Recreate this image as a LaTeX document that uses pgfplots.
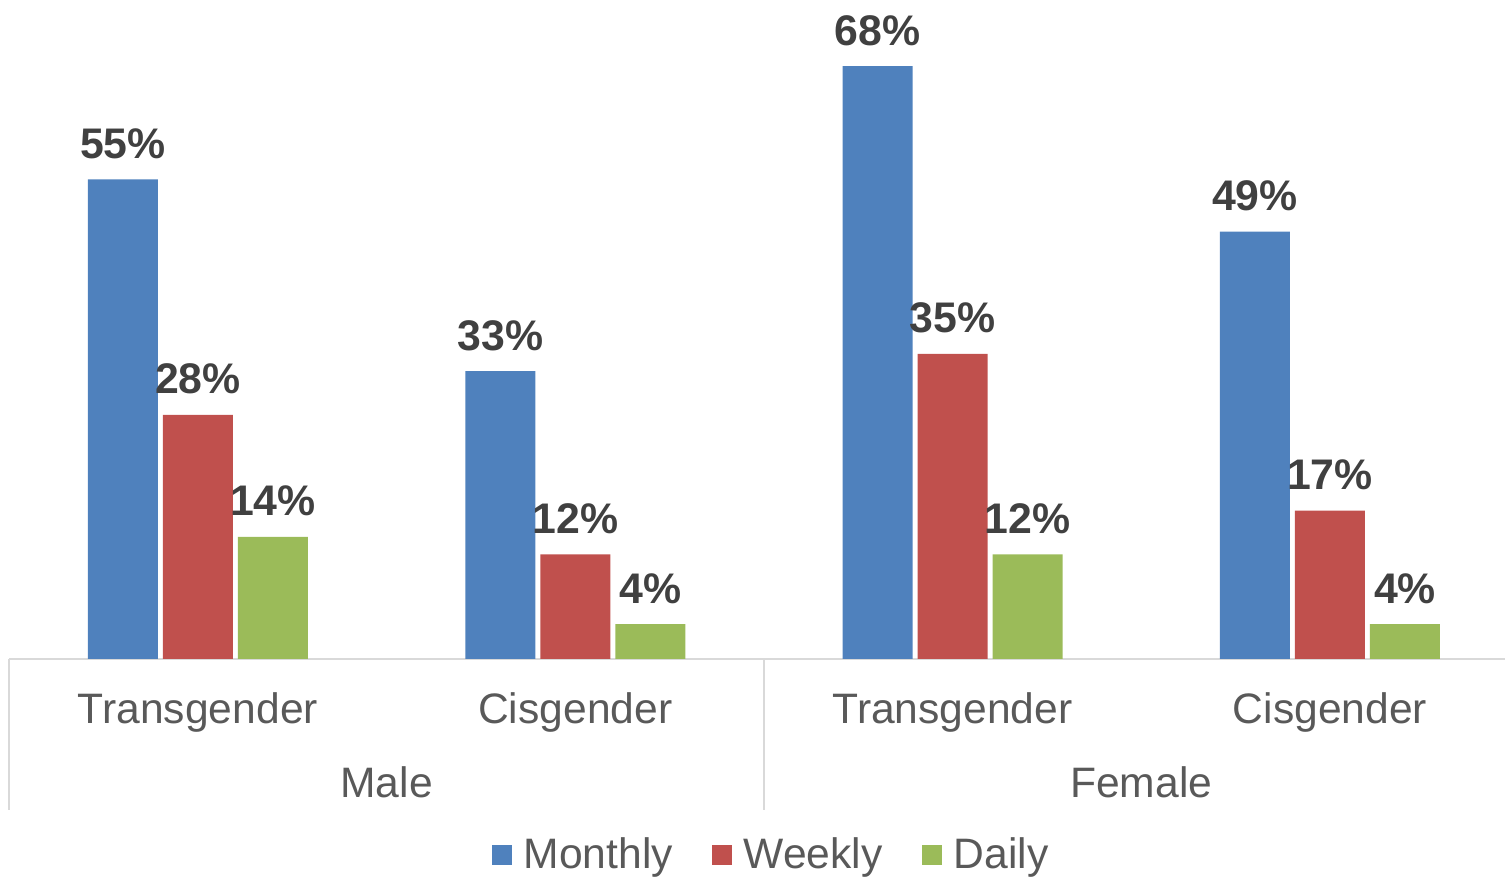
\documentclass[border=0pt]{standalone}
\usepackage{pgfplots}
\pgfplotsset{compat=1.18}
\usepackage{fontspec}
\setmainfont{Liberation Sans}

\definecolor{cMonthly}{HTML}{4F81BD}
\definecolor{cWeekly}{HTML}{C0504D}
\definecolor{cDaily}{HTML}{9BBB59}
\definecolor{labeltext}{HTML}{404040}
\definecolor{axistext}{HTML}{595959}
\definecolor{axisgrey}{HTML}{D9D9D9}

\newcommand{\catfont}{\fontsize{21.3}{25}\selectfont}

\begin{document}
\begin{tikzpicture}
    \begin{axis}[
            name=ax,
            scale only axis,
            width=747.85pt, height=327pt,
            xmin=0, xmax=3.964,
            ymin=0, ymax=75,
            axis x line*=bottom,
            axis y line=none,
            x axis line style={axisgrey, line width=1pt},
            major tick length=0pt,
            xtick={0.5,1.5,2.5,3.5},
            xticklabels={Transgender,Cisgender,Transgender,Cisgender},
            xticklabel style={anchor=base, yshift=-32.5pt, inner sep=0pt,
                    font=\catfont, text=axistext},
            ybar=2.5pt, bar width=35pt,
            clip=false,
            /pgf/number format/assume math mode=true,
            nodes near coords={\pgfmathprintnumber{\pgfplotspointmeta}\%},
            every node near coord/.append style={anchor=base, inner sep=0pt,
                    yshift=10.5pt, font=\bfseries\fontsize{21.4}{25}\selectfont,
                    text=labeltext},
            legend columns=-1,
            legend image code/.code={\fill[#1] (0pt,-5pt) rectangle (10pt,5pt);},
            legend style={draw=none, fill=none,
                    at={(0.5086,-0.2997)}, anchor=center,
                    nodes={inner sep=0pt, font=\catfont, text=axistext},
                    /tikz/every odd column/.append style={column sep=6pt},
                    /tikz/every even column/.append style={column sep=19.5pt}},
        ]
        \addplot[fill=cMonthly, draw=none]
        coordinates {(0.5,55) (1.5,33) (2.5,68) (3.5,49)};
        \addlegendentry{Monthly}
        \addplot[fill=cWeekly, draw=none]
        coordinates {(0.5,28) (1.5,12) (2.5,35) (3.5,17)};
        \addlegendentry{Weekly}
        \addplot[fill=cDaily, draw=none]
        coordinates {(0.5,14) (1.5,4) (2.5,12) (3.5,4)};
        \addlegendentry{Daily}

        % group separators and group labels
        \draw[axisgrey, line width=1pt] (axis cs:0,0) -- ++(0,-75.5pt);
        \draw[axisgrey, line width=1pt] (axis cs:2,0) -- ++(0,-75.5pt);
        \node[anchor=base, inner sep=0pt, font=\catfont, text=axistext]
        at ([yshift=-69.5pt]axis cs:1,0) {Male};
        \node[anchor=base, inner sep=0pt, font=\catfont, text=axistext]
        at ([yshift=-69.5pt]axis cs:3,0) {Female};
    \end{axis}
    \pgfresetboundingbox
    \useasboundingbox ([xshift=-4.65pt, yshift=-109pt]ax.south west)
    rectangle ([yshift=2.5pt]ax.north east);
\end{tikzpicture}
\end{document}
